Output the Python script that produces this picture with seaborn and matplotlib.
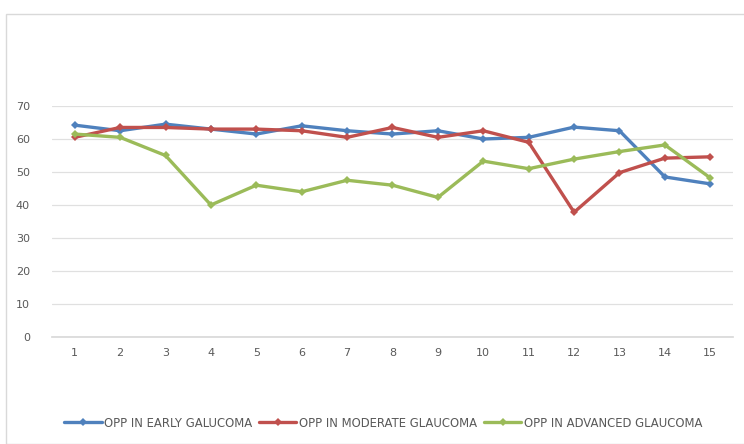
import matplotlib
matplotlib.use("Agg")
import matplotlib.pyplot as plt
import seaborn as sns
import pandas as pd
from matplotlib.patches import Rectangle

x_labels = list(range(1, 16))
early = [64.2, 62.5, 64.5, 63.0, 61.5, 64.0, 62.5, 61.5, 62.5, 60.0, 60.5, 63.6, 62.5, 48.5, 46.4]
moderate = [60.5, 63.5, 63.5, 63.0, 63.0, 62.5, 60.5, 63.5, 60.5, 62.5, 59.0, 37.8, 49.8, 54.2, 54.6]
advanced = [61.5, 60.5, 55.0, 40.0, 46.0, 44.0, 47.5, 46.0, 42.3, 53.3, 51.0, 53.9, 56.2, 58.2, 48.2]
series_names = ["OPP IN EARLY GALUCOMA", "OPP IN MODERATE GLAUCOMA", "OPP IN ADVANCED GLAUCOMA"]
colors = ["#4f81bd", "#c0504d", "#9bbb59"]
y_ticks = [0, 10, 20, 30, 40, 50, 60, 70]

df = pd.DataFrame({
    "x": x_labels * 3,
    "value": early + moderate + advanced,
    "series": [series_names[0]] * 15 + [series_names[1]] * 15 + [series_names[2]] * 15,
})

sns.set_theme(style="white")
plt.rcParams["font.family"] = ["DejaVu Sans"]

fig = plt.figure(figsize=(7.44, 4.44), dpi=100)
ax = fig.add_axes([52 / 744, 1 - 337 / 444, (733 - 52) / 744, (337 - 106) / 444])

fig.patches.append(Rectangle((6 / 744, 0), 1.0, 1 - 14 / 444, transform=fig.transFigure,
                             fill=False, edgecolor="#d9d9d9", linewidth=1.0, zorder=0))

sns.lineplot(data=df, x="x", y="value", hue="series", palette=colors, style="series",
             markers=["D", "D", "D"], dashes=False, markersize=4.5, linewidth=2.4,
             markeredgewidth=0, ax=ax, legend=True)

ax.set_xlim(0.5, 15.5)
ax.set_ylim(0, 70)
ax.set_yticks(y_ticks)
ax.set_xticks(x_labels)
ax.set_xticklabels([str(v) for v in x_labels])
ax.grid(axis="y", color="#e0e0e0", linewidth=0.9)
ax.set_axisbelow(True)
for s in ax.spines.values():
    s.set_visible(False)
ax.spines["bottom"].set_visible(True)
ax.spines["bottom"].set_color("#d9d9d9")
ax.tick_params(axis="both", length=0, labelsize=8, colors="#595959")
ax.tick_params(axis="y", pad=16)
ax.tick_params(axis="x", pad=8)
ax.set_xlabel("")
ax.set_ylabel("")

handles, labels = ax.get_legend_handles_labels()
ax.legend_.remove()
fig.legend(handles, labels, loc="center", bbox_to_anchor=(0.515, 1 - 423 / 444), ncol=3,
           frameon=False, fontsize=8.4, labelcolor="#595959", handlelength=3.2,
           handletextpad=0.2, columnspacing=0.6)

fig.savefig("out.png", dpi=100)
